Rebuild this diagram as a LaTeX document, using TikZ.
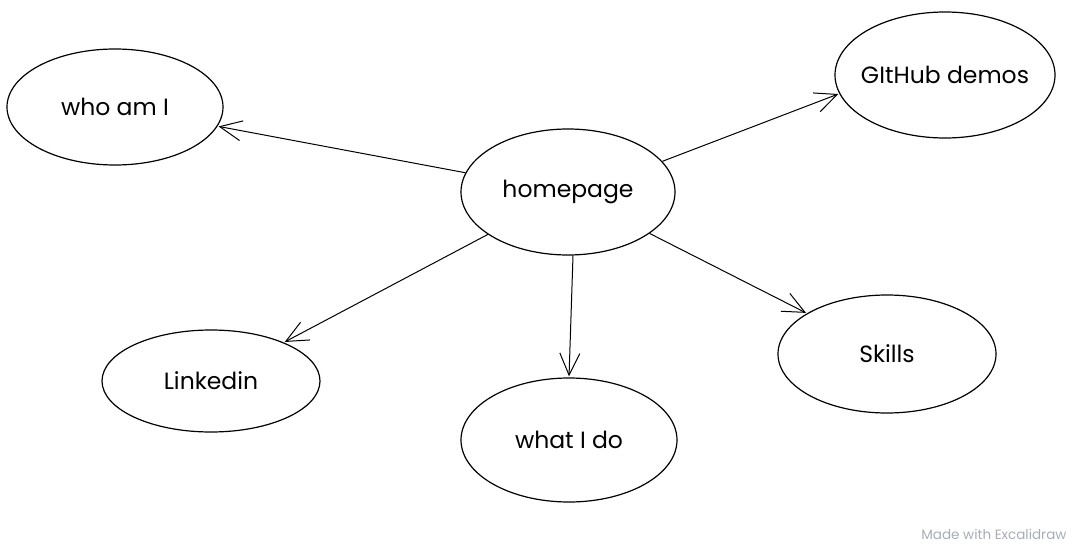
\documentclass[tikz,border=0pt]{standalone}
\usepackage{fontspec}
\setmainfont{Poppins}
\usetikzlibrary{shapes.geometric,arrows.meta}
\definecolor{wm}{HTML}{A8ADB5}
\tikzset{
  bubble/.style={ellipse,draw=black,line width=1.2pt,inner sep=0pt,font=\fontsize{23.5}{26}\selectfont},
  link/.style={draw=black,line width=1pt,-{Straight Barb[length=22pt,width=20pt,line width=1pt]},shorten >=1pt},
}
\begin{document}
\begin{tikzpicture}[x=1pt,y=-1pt]
\useasboundingbox (0,0) rectangle (1081,546);
\node[bubble,minimum width=216pt,minimum height=116pt] (who) at (115,107) {who am I};
\node[bubble,inner xsep=-30pt,minimum width=220pt,minimum height=126pt] (git) at (945,75) {GItHub demos};
\node[bubble,minimum width=214pt,minimum height=126pt] (home) at (568,192) {homepage};
\node[bubble,minimum width=218pt,minimum height=102pt] (lnk) at (211,381) {Linkedin};
\node[bubble,minimum width=216pt,minimum height=124pt] (what) at (569,440) {what I do};
\node[bubble,minimum width=218pt,minimum height=118pt] (sk) at (887,354) {Skills};
\draw[link] (home) -- (who);
\draw[link] (home.18) -- (git.190);
\draw[link] (home) -- (lnk);
\draw[link] ([xshift=5pt]home.south) -- (what.north);
\draw[link] (home) -- (sk);
\node[text=wm,font=\fontsize{13.5}{15}\selectfont,anchor=east] (wmark) at (1070,534) {Made with Excalidraw};
\end{tikzpicture}
\end{document}
